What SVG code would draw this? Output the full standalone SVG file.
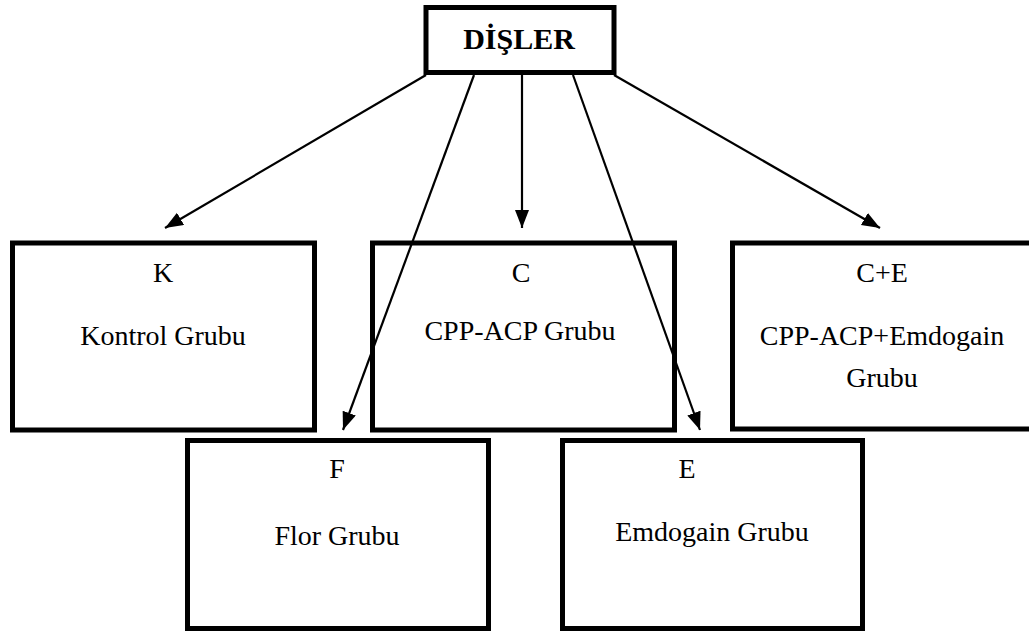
<svg xmlns="http://www.w3.org/2000/svg" width="1029" height="631" viewBox="0 0 1029 631">
<style>
.box{fill:#fff;stroke:#000;stroke-width:5}
.t{font-family:"Liberation Serif","Times New Roman",serif;font-size:28px;fill:#000;text-anchor:middle}
.b{font-weight:bold;font-size:30px}
.c{stroke:#000;stroke-width:2.2;fill:none;marker-end:url(#ah)}
</style>
<defs>
<marker id="ah" markerUnits="userSpaceOnUse" markerWidth="20" markerHeight="16" refX="18" refY="7" orient="auto">
<path d="M0,0 L18,7 L0,14 z" fill="#000"/>
</marker>
</defs>
<rect width="1029" height="631" fill="#fff"/>
<g id="node-k"><rect class="box" x="12.5" y="243" width="302" height="187"/>
<text class="t" x="163" y="282">K</text><text class="t" x="163" y="345">Kontrol Grubu</text></g>
<g id="node-c"><rect class="box" x="372.5" y="243" width="302" height="187"/>
<text class="t" x="521" y="282">C</text><text class="t" x="520" y="340">CPP-ACP Grubu</text></g>
<g id="node-ce"><rect class="box" x="732.5" y="243" width="310" height="186"/>
<text class="t" x="882" y="282">C+E</text><text class="t" x="882" y="345">CPP-ACP+Emdogain</text><text class="t" x="882" y="387">Grubu</text></g>
<g id="node-f"><rect class="box" x="187.5" y="440.5" width="301" height="188"/>
<text class="t" x="337" y="478">F</text><text class="t" x="337" y="545">Flor Grubu</text></g>
<g id="node-e"><rect class="box" x="562.5" y="440.5" width="300" height="188"/>
<text class="t" x="687" y="478">E</text><text class="t" x="712" y="541">Emdogain Grubu</text></g>
<g id="node-disler"><rect class="box" x="426" y="7.5" width="188" height="65"/>
<text class="t b" x="519" y="49">DİŞLER</text></g>
<g id="connectors">
<line class="c" x1="426" y1="75" x2="165" y2="228"/>
<line class="c" x1="474" y1="75" x2="343" y2="430"/>
<line class="c" x1="522" y1="75" x2="522" y2="228"/>
<line class="c" x1="573" y1="75" x2="700" y2="430"/>
<line class="c" x1="614" y1="75" x2="880" y2="228"/>
</g>
</svg>
